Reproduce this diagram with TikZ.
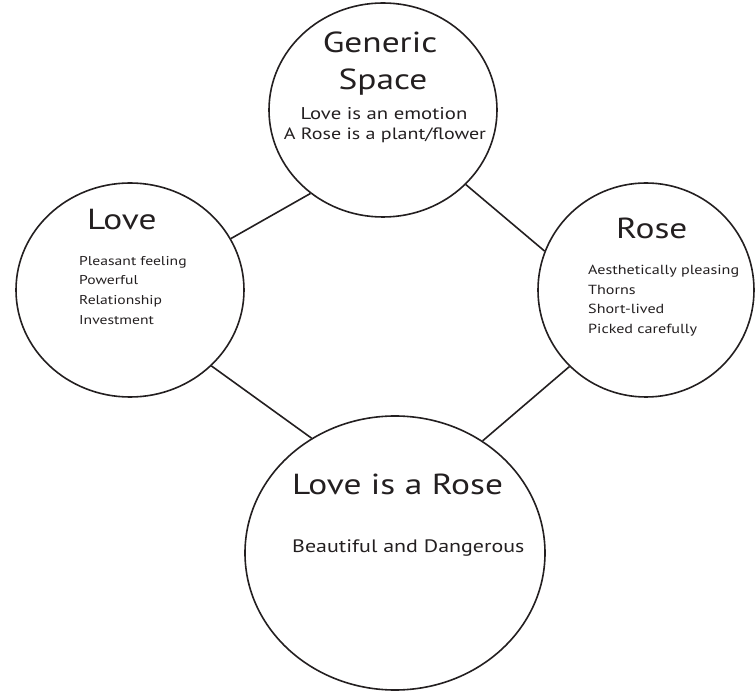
\documentclass[tikz,border=0pt]{standalone}
\usepackage{fontspec}
\setmainfont[FakeStretch=1.22]{PT Sans}
\usetikzlibrary{shapes.geometric}

\definecolor{ink}{HTML}{231F20}

\tikzset{
  blend/.style={ellipse, draw=ink, line width=1.6pt, inner sep=0pt},
  link/.style={draw=ink, line width=1.6pt},
  title/.style={inner sep=0pt, font=\fontsize{29}{30}\selectfont, text=ink},
  subtext/.style={inner sep=0pt, font=\fontsize{17}{20}\selectfont, text=ink},
  items/.style={inner sep=0pt, font=\fontsize{12.8}{19.6}\selectfont, text=ink, align=left},
}

\begin{document}
\begin{tikzpicture}[x=1pt, y=-1pt]
  \useasboundingbox (0,0) rectangle (756,692);

  % the four spaces
  \node[blend, minimum width=228pt, minimum height=214pt] (gen) at (383,110) {};
  \node[blend, minimum width=228pt, minimum height=214pt] (love) at (130,290) {};
  \node[blend, minimum width=216pt, minimum height=214pt] (rose) at (646,290) {};
  \node[blend, minimum width=300pt, minimum height=274pt] (blend) at (395,553) {};

  % connectors
  \draw[link] (gen.229.1) -- (love.27);
  \draw[link] (gen.318.6) -- (rose.159.2);
  \draw[link] (love.317.2) -- (blend.126.1);
  \draw[link] (rose.225.4) -- (blend.52.3);

  % generic space
  \node[title, anchor=base] (genA) at (380,53) {Generic};
  \node[title, anchor=base] (genB) at (383,90) {Space};
  \node[subtext, anchor=base] (genC) at (384,120) {Love is an emotion};
  \node[subtext, anchor=base, font=\fontsize{16.4}{20}\selectfont] (genD) at (385,140) {A Rose is a plant/flower};

  % input space: love
  \node[title, anchor=base west] (loveT) at (87,230) {Love};
  \node[items, anchor=north west] (loveL) at (79,256)
    {Pleasant feeling\\Powerful\\Relationship\\Investment};

  % input space: rose
  \node[title, anchor=base west] (roseT) at (616,239) {Rose};
  \node[items, anchor=north west, font=\fontsize{13.2}{19.5}\selectfont] (roseL) at (588,265)
    {Aesthetically pleasing\\Thorns\\Short-lived\\Picked carefully};

  % blended space
  \node[title, anchor=base west] (blendT) at (292,495) {Love is a Rose};
  \node[subtext, anchor=base west, font=\fontsize{18}{20}\selectfont] (blendS) at (292,553) {Beautiful and Dangerous};
\end{tikzpicture}
\end{document}
